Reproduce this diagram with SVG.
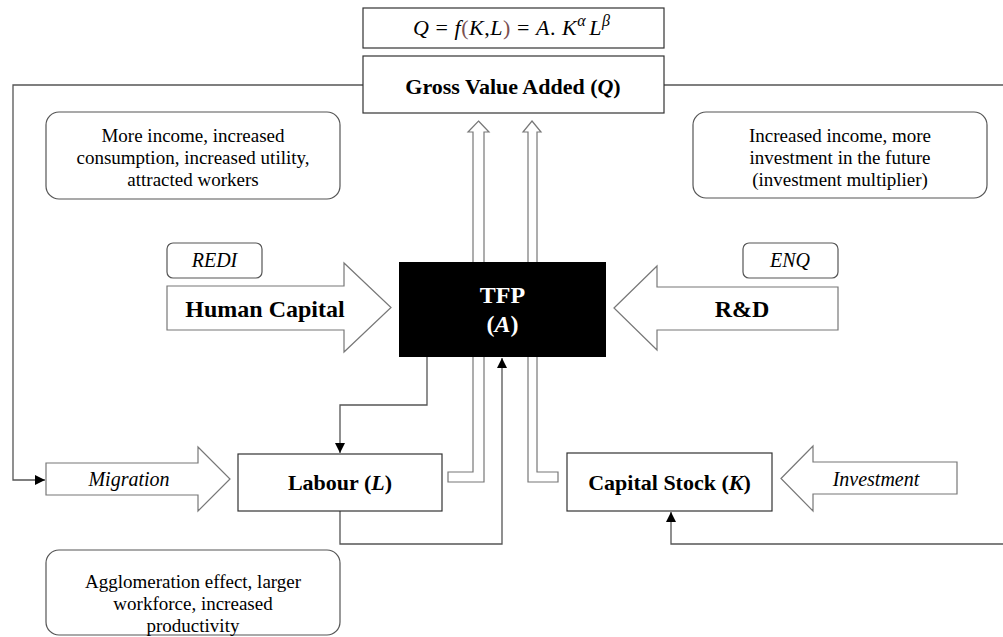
<svg xmlns="http://www.w3.org/2000/svg" width="1003" height="637" viewBox="0 0 1003 637">
  <defs>
    <marker id="tri" viewBox="0 0 10 10" refX="10" refY="5" markerWidth="10" markerHeight="10" markerUnits="userSpaceOnUse" orient="auto">
      <path d="M0,0 L10,5 L0,10 Z" fill="#000"/>
    </marker>
    <style>
      text { font-family: "Liberation Serif", "Times New Roman", serif; fill: #000; }
      .box { fill: #fff; stroke: #333; stroke-width: 1.2; }
      .note { fill: #fff; stroke: #555; stroke-width: 1.2; }
      .fat { fill: #fff; stroke: #777; stroke-width: 1.2; stroke-linejoin: miter; }
      .line { fill: none; stroke: #555; stroke-width: 1.3; }
      .lbl { font-size: 22px; font-weight: bold; text-anchor: middle; }
      .big { font-size: 24px; font-weight: bold; text-anchor: middle; }
      .it { font-size: 20px; font-style: italic; text-anchor: middle; }
      .body { font-size: 19px; text-anchor: middle; }
      .par { fill: #7a5050; }
    </style>
  </defs>

  <!-- feedback connectors -->
  <g id="connectors">
    <path class="line" d="M363,85 H13 V480 H45" marker-end="url(#tri)"/>
    <path class="line" d="M664,85 H1003"/>
    <path class="line" d="M1003,544 H671 V512" marker-end="url(#tri)"/>
    <path class="line" d="M427,357 V405 H340 V453" marker-end="url(#tri)"/>
    <path class="line" d="M340,511 V544 H502 V358" marker-end="url(#tri)"/>
    <!-- hollow block arrows from L and K up to output -->
    <polygon class="fat" points="478.5,121 489,132 484,132 484,482 448,482 448,472 473,472 473,132 468,132"/>
    <polygon class="fat" points="532,121 541,132 537,132 537,472 558,472 558,482 528,482 528,132 523,132"/>
  </g>

  <!-- production function -->
  <g id="formula">
    <rect class="box" x="363" y="8" width="301" height="40"/>
    <text x="413" y="35" font-size="22" textLength="197" lengthAdjust="spacing"><tspan font-style="italic">Q</tspan> = <tspan font-style="italic">f</tspan><tspan class="par">(</tspan><tspan font-style="italic">K</tspan>,<tspan font-style="italic">L</tspan><tspan class="par">)</tspan> = <tspan font-style="italic">A</tspan>. <tspan font-style="italic">K</tspan><tspan font-style="italic" font-size="16" dy="-9">α</tspan><tspan font-style="italic" dy="9" dx="3">L</tspan><tspan font-style="italic" font-size="16" dy="-9">β</tspan></text>
  </g>

  <g id="gva">
    <rect class="box" x="363" y="56" width="301" height="57"/>
    <text class="lbl" x="513" y="94">Gross Value Added (<tspan font-style="italic">Q</tspan>)</text>
  </g>

  <g id="note-income">
    <rect class="note" x="46" y="112" width="294" height="87" rx="13"/>
    <text class="body" x="193" y="142">More income, increased</text>
    <text class="body" x="193" y="164">consumption, increased utility,</text>
    <text class="body" x="193" y="186">attracted workers</text>
  </g>

  <g id="note-investment">
    <rect class="note" x="693" y="112" width="294" height="86" rx="13"/>
    <text class="body" x="840" y="142">Increased income, more</text>
    <text class="body" x="840" y="164">investment in the future</text>
    <text class="body" x="840" y="186">(investment multiplier)</text>
  </g>

  <g id="human-capital">
    <polygon class="fat" points="167,286 344,286 344,263 391,307.5 344,352 344,330 167,330"/>
    <text class="big" x="265" y="317">Human Capital</text>
  </g>
  <g id="redi">
    <rect class="note" x="167" y="243" width="95" height="35" rx="6"/>
    <text class="it" x="214.5" y="267">REDI</text>
  </g>

  <g id="rnd">
    <polygon class="fat" points="614,308 657,266 657,287 838,287 838,330 657,330 657,350"/>
    <text class="big" x="742" y="317">R&amp;D</text>
  </g>
  <g id="enq">
    <rect class="note" x="743" y="243" width="95" height="35" rx="6"/>
    <text class="it" x="790" y="267">ENQ</text>
  </g>

  <g id="tfp">
    <rect x="399" y="262" width="207" height="95" fill="#000"/>
    <text class="big" x="502.5" y="303" style="fill:#fff">TFP</text>
    <text class="big" x="502.5" y="332" style="fill:#fff">(<tspan font-style="italic">A</tspan>)</text>
  </g>

  <g id="migration">
    <polygon class="fat" points="46,463 198,463 198,447 230,479 198,511 198,495 46,495"/>
    <text class="it" x="129" y="486">Migration</text>
  </g>

  <g id="labour">
    <rect class="box" x="238" y="454" width="204" height="57"/>
    <text class="lbl" x="340" y="490">Labour (<tspan font-style="italic">L</tspan>)</text>
  </g>

  <g id="capital">
    <rect class="box" x="567" y="453" width="205" height="58"/>
    <text class="lbl" x="669.5" y="490">Capital Stock (<tspan font-style="italic">K</tspan>)</text>
  </g>

  <g id="investment">
    <polygon class="fat" points="781,478.5 813,446 813,462 957,462 957,494 813,494 813,511"/>
    <text class="it" x="876" y="486">Investment</text>
  </g>

  <g id="note-agglomeration">
    <rect class="note" x="46" y="550" width="294" height="85" rx="13"/>
    <text class="body" x="193" y="588">Agglomeration effect, larger</text>
    <text class="body" x="193" y="610">workforce, increased</text>
    <text class="body" x="193" y="632">productivity</text>
  </g>
</svg>
